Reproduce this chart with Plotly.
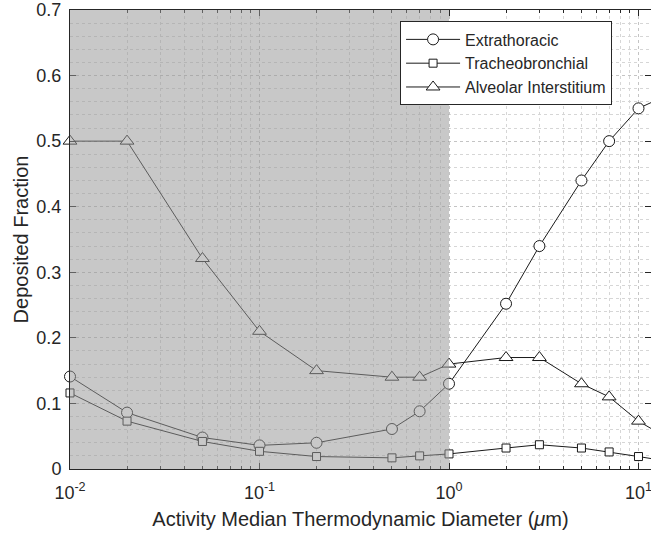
import plotly.graph_objects as go

# ---- data ----
diameter = [0.01, 0.02, 0.05, 0.1, 0.2, 0.5, 0.7, 1, 2, 3, 5, 7, 10, 20]
extrathoracic = [0.141, 0.086, 0.048, 0.036, 0.040, 0.061, 0.088, 0.130, 0.252, 0.340, 0.440, 0.500, 0.550, 0.590]
tracheobronchial = [0.116, 0.073, 0.042, 0.027, 0.019, 0.017, 0.020, 0.023, 0.032, 0.037, 0.032, 0.026, 0.019, 0.005]
alveolar = [0.500, 0.500, 0.321, 0.210, 0.150, 0.140, 0.140, 0.160, 0.170, 0.170, 0.130, 0.110, 0.073, 0.022]

series_names = ["Extrathoracic", "Tracheobronchial", "Alveolar Interstitium"]
x_tick_vals = [0.01, 0.1, 1, 10]
x_tick_text = ["10<sup>-2</sup>", "10<sup>-1</sup>", "10<sup>0</sup>", "10<sup>1</sup>"]
y_tick_vals = [0, 0.1, 0.2, 0.3, 0.4, 0.5, 0.6, 0.7]
y_tick_text = ["0", "0.1", "0.2", "0.3", "0.4", "0.5", "0.6", "0.7"]
shade_range = [0.01, 1]

minor_x = [m * 10 ** e for e in (-2, -1, 0, 1) for m in range(2, 10)]

FONT = "Liberation Sans, Arial, sans-serif"
TXT = "#262626"

fig = go.Figure()
styles = [
    (extrathoracic, "circle", 11),
    (tracheobronchial, "square", 8),
    (alveolar, "triangle-up", 12),
]
for name, (vals, sym, sz) in zip(series_names, styles):
    fig.add_trace(go.Scatter(
        x=diameter, y=vals, name=name, mode="lines+markers",
        line=dict(color="#1a1a1a", width=1),
        marker=dict(symbol=sym, size=sz, color="white",
                    line=dict(color="#1a1a1a", width=1)),
        cliponaxis=False,
    ))

# semi-transparent shaded region drawn above the data
fig.add_shape(type="rect", xref="x", yref="paper",
              x0=shade_range[0], x1=shade_range[1], y0=0, y1=1,
              fillcolor="rgba(151,151,151,0.53)", line=dict(width=0),
              layer="above")

fig.update_layout(
    width=651, height=536,
    margin=dict(l=70, r=0, t=10, b=67),
    paper_bgcolor="white", plot_bgcolor="white",
    font=dict(family=FONT, color=TXT, size=18),
    showlegend=True,
    legend=dict(
        x=0.933, y=0.975, xanchor="right", yanchor="top",
        bgcolor="white", bordercolor="#262626", borderwidth=1,
        font=dict(family=FONT, size=16, color=TXT),
        tracegroupgap=0, itemwidth=54,
    ),
)

fig.update_xaxes(
    type="log", range=[-2, 1.066],
    tickmode="array", tickvals=x_tick_vals, ticktext=x_tick_text,
    ticks="inside", ticklen=6, tickcolor="#262626",
    showline=True, linecolor="#262626", linewidth=1, mirror="ticks",
    showgrid=True, gridcolor="#c4c4c4", griddash="dot", gridwidth=1,
    minor=dict(tickmode="array", tickvals=minor_x, ticks="inside", ticklen=3,
               tickcolor="#262626", showgrid=True, gridcolor="#d6d6d6",
               griddash="dot"),
    zeroline=False,
    tickfont=dict(size=18, color=TXT),
    ticklabelstandoff=7,
    ticklabeloverflow="allow",
    title=dict(text="Activity Median Thermodynamic Diameter (<i>μ</i>m)",
               font=dict(size=20, color=TXT), standoff=10),
)
fig.update_yaxes(
    range=[0, 0.7],
    tickmode="array", tickvals=y_tick_vals, ticktext=y_tick_text,
    ticks="inside", ticklen=6, tickcolor="#262626",
    showline=True, linecolor="#262626", linewidth=1, mirror="ticks",
    showgrid=True, gridcolor="#c4c4c4", griddash="dot", gridwidth=1,
    minor=dict(dtick=0.02, showgrid=True, gridcolor="#d6d6d6", griddash="dot",
               ticks=""),
    zeroline=False,
    tickfont=dict(size=18, color=TXT),
    ticklabelstandoff=4,
    title=dict(text="Deposited Fraction", font=dict(size=20, color=TXT),
               standoff=2),
)

fig.write_html("out.html")
